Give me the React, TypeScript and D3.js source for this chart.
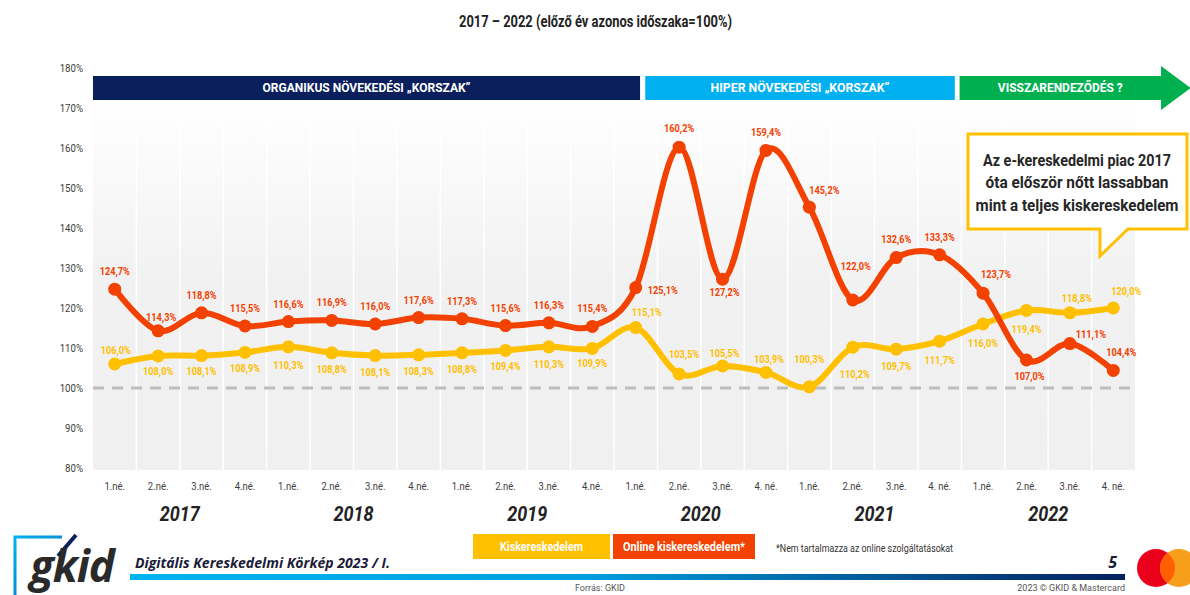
import React from "react";
import * as d3 from "d3";

const years = ["2017", "2018", "2019", "2020", "2021", "2022"];
const quarterLabels = [
  "1.né.", "2.né.", "3.né.", "4.né.",
  "1.né.", "2.né.", "3.né.", "4.né.",
  "1.né.", "2.né.", "3.né.", "4.né.",
  "1.né.", "2.né.", "3.né.", "4. né.",
  "1.né.", "2.né.", "3.né.", "4. né.",
  "1.né.", "2.né.", "3.né.", "4. né.",
];
const retail = [
  106.0, 108.0, 108.1, 108.9, 110.3, 108.8, 108.1, 108.3, 108.8, 109.4, 110.3, 109.9,
  115.1, 103.5, 105.5, 103.9, 100.3, 110.2, 109.7, 111.7, 116.0, 119.4, 118.8, 120.0,
];
const online = [
  124.7, 114.3, 118.8, 115.5, 116.6, 116.9, 116.0, 117.6, 117.3, 115.6, 116.3, 115.4,
  125.1, 160.2, 127.2, 159.4, 145.2, 122.0, 132.6, 133.3, 123.7, 107.0, 111.1, 104.4,
];
const yTicks = [80, 90, 100, 110, 120, 130, 140, 150, 160, 170, 180];
const seriesNames = ["Kiskereskedelem", "Online kiskereskedelem*"];
const phaseLabels = ["ORGANIKUS NÖVEKEDÉSI „KORSZAK”", "HIPER NÖVEKEDÉSI „KORSZAK”", "VISSZARENDEZŐDÉS ?"];
const calloutLines = ["Az e-kereskedelmi piac 2017", "óta először nőtt lassabban", "mint a teljes kiskereskedelem"];
const titleText = "2017 – 2022 (előző év azonos időszaka=100%)";
const noteText = "*Nem tartalmazza az online szolgáltatásokat";

// label offsets (layout, kept separate from the data)
const onlineLabelOffsets: [number, number][] = [
  [0, -18], [3, -14], [0, -18], [0, -18], [0, -18], [0, -18], [0, -18], [0, -18], [0, -18], [0, -18], [0, -18], [0, -18],
  [27, 2], [0, -19], [2, 13], [0, -18], [15, -17], [3, -34], [0, -19], [0, -18], [13, -19], [3, 16], [21, -10], [8, -18],
];
const retailLabelOffsets: [number, number][] = [
  [1, -14], [0, 15], [0, 15], [0, 16], [0, 18], [0, 16], [0, 16], [0, 16], [0, 16], [0, 16], [0, 17], [0, 15],
  [11, -16], [5, -20], [2, -13], [3, -13], [0, -28], [2, 27], [0, 17], [0, 19], [0, 19], [0, 19], [7, -15], [13, -17],
];

const FONT = "Roboto, 'Noto Sans', sans-serif";
const RETAIL = "#ffc000";
const ONLINE = "#f24100";
const NAVY = "#0b1f5c";
const LIGHTBLUE = "#00b0f0";
const GREEN = "#00b050";

const fmt = (v: number) => v.toFixed(1).replace(".", ",") + "%";

function CText(props: any) {
  const { x, y, sx = 1, children, ...rest } = props;
  return (
    <text transform={`translate(${x},${y}) scale(${sx},1)`} dy="0.35em" {...rest}>
      {children}
    </text>
  );
}

export default function App() {
  const W = 1190, H = 595;
  const x0 = 93, x1 = 1135;
  const n = online.length;
  const band = (x1 - x0) / n;
  const x = d3.scaleBand<number>().domain(d3.range(n)).range([x0, x1]);
  const cx = (i: number) => (x(i) as number) + x.bandwidth() / 2;
  const xf = (f: number) => x0 + f * band;
  const y = d3.scaleLinear().domain([80, 180]).range([468, 68]);

  const line = d3.line<number>().x((_, i) => cx(i)).y((d) => y(d)).curve(d3.curveCatmullRom.alpha(0));

  const plotTop = 98, plotBottom = 470;
  const bannerTop = y(178), bannerH = y(172) - y(178);

  return (
    <svg width={W} height={H} style={{ position: "absolute", left: 0, top: 0, background: "#fff" }} fontFamily={FONT}>
      <defs>
        <linearGradient id="bg" x1="0" y1="0" x2="0" y2="1">
          <stop offset="0" stopColor="#ffffff" />
          <stop offset="0.5" stopColor="#f1f1f1" />
          <stop offset="1" stopColor="#f0f0f0" />
        </linearGradient>
        <linearGradient id="bar" x1="0" y1="0" x2="1" y2="0">
          <stop offset="0" stopColor="#00b4f0" />
          <stop offset="0.45" stopColor="#00a0e0" />
          <stop offset="1" stopColor="#06205e" />
        </linearGradient>
        <linearGradient id="logo" x1="0" y1="0" x2="1" y2="1">
          <stop offset="0" stopColor="#00b0f0" />
          <stop offset="1" stopColor="#0070c0" />
        </linearGradient>
      </defs>

      {/* title */}
      <text x={459} y={27} fontSize={16} fontWeight="bold" fill="#222" textLength={273} lengthAdjust="spacingAndGlyphs">
        {titleText}
      </text>

      {/* plot background */}
      <rect x={x0} y={plotTop} width={x1 - x0} height={plotBottom - plotTop} fill="url(#bg)" />
      {d3.range(1, n).map((i) => (
        <line key={i} x1={x0 + i * band} x2={x0 + i * band} y1={plotTop} y2={plotBottom} stroke="#ffffff" strokeWidth={1.5} />
      ))}

      {/* y axis labels */}
      {yTicks.map((t) => (
        <CText key={t} x={83} y={y(t)} sx={0.84} textAnchor="end" fontSize={11.5} fill="#404040">
          {t}%
        </CText>
      ))}

      {/* phase banners */}
      <rect x={xf(0)} y={bannerTop} width={xf(12.6) - xf(0)} height={bannerH} fill={NAVY} />
      <text x={(xf(0) + xf(12.6)) / 2 - 104} y={y(175)} dy="0.35em" fontSize={12.5} fontWeight="bold" fill="#fff"
        textLength={208} lengthAdjust="spacingAndGlyphs">
        {phaseLabels[0]}
      </text>
      <rect x={xf(12.72)} y={bannerTop} width={xf(19.85) - xf(12.72)} height={bannerH} fill={LIGHTBLUE} />
      <text x={(xf(12.72) + xf(19.85)) / 2 - 89.5} y={y(175)} dy="0.35em" fontSize={12.5} fontWeight="bold" fill="#fff"
        textLength={179} lengthAdjust="spacingAndGlyphs">
        {phaseLabels[1]}
      </text>
      <path
        d={`M${xf(19.96)},${y(178)} L${xf(24.6)},${y(178)} L${xf(24.6)},${y(180.5)} L${xf(25.28)},${y(175)} L${xf(24.6)},${y(169.5)} L${xf(24.6)},${y(172)} L${xf(19.96)},${y(172)} Z`}
        fill={GREEN}
      />
      <text x={(xf(19.96) + xf(24.6)) / 2 - 62.5} y={y(175)} dy="0.35em" fontSize={12.5} fontWeight="bold" fill="#fff"
        textLength={125} lengthAdjust="spacingAndGlyphs">
        {phaseLabels[2]}
      </text>

      {/* 100% reference */}
      <line x1={x0} x2={x1} y1={y(100)} y2={y(100)} stroke="#bdbdbd" strokeWidth={3} strokeDasharray="11 8" />

      {/* series */}
      <path d={line(retail) || ""} fill="none" stroke={RETAIL} strokeWidth={6} strokeLinejoin="round" />
      {retail.map((v, i) => (
        <circle key={"rc" + i} cx={cx(i)} cy={y(v)} r={6.5} fill={RETAIL} />
      ))}
      <path d={line(online) || ""} fill="none" stroke={ONLINE} strokeWidth={6} strokeLinejoin="round" />
      {online.map((v, i) => (
        <circle key={"oc" + i} cx={cx(i)} cy={y(v)} r={6.5} fill={ONLINE} />
      ))}

      {/* data labels */}
      {retail.map((v, i) => (
        <CText key={"rl" + i} x={cx(i) + retailLabelOffsets[i][0]} y={y(v) + retailLabelOffsets[i][1]} sx={0.8}
          textAnchor="middle" fontSize={11.5} fontWeight="bold" fill={RETAIL}>
          {fmt(v)}
        </CText>
      ))}
      {online.map((v, i) => (
        <CText key={"ol" + i} x={cx(i) + onlineLabelOffsets[i][0]} y={y(v) + onlineLabelOffsets[i][1]} sx={0.8}
          textAnchor="middle" fontSize={11.5} fontWeight="bold" fill={ONLINE}>
          {fmt(v)}
        </CText>
      ))}

      {/* x axis labels */}
      {quarterLabels.map((q, i) => (
        <CText key={"q" + i} x={cx(i)} y={486} sx={0.86} textAnchor="middle" fontSize={11} fill="#404040">
          {q}
        </CText>
      ))}
      {years.map((yr, k) => (
        <CText key={yr} x={(cx(k * 4) + cx(k * 4 + 3)) / 2} y={514} sx={0.9} textAnchor="middle" fontSize={20}
          fontWeight="bold" fontStyle="italic" fill="#222">
          {yr}
        </CText>
      ))}

      {/* callout */}
      <path d="M968,134 L1187,134 L1187,229 L1128,229 L1100,256 L1100,229 L968,229 Z" fill="#fff" stroke={RETAIL} strokeWidth={3} strokeLinejoin="miter" />
      {calloutLines.map((l, i) => {
        const w = [188, 183, 203][i];
        return (
          <text key={"cl" + i} x={1077 - w / 2} y={160 + i * 22.5} dy="0.35em" fontSize={16} fontWeight="bold" fill="#262626"
            textLength={w} lengthAdjust="spacingAndGlyphs">
            {l}
          </text>
        );
      })}

      {/* legend */}
      <rect x={473} y={534} width={137} height={25} fill={RETAIL} />
      <text x={541.5 - 41.5} y={546.5} dy="0.35em" fontSize={12.5} fontWeight="bold" fill="#fff" textLength={83} lengthAdjust="spacingAndGlyphs">{seriesNames[0]}</text>
      <rect x={613} y={534} width={142} height={25} fill={ONLINE} />
      <text x={684 - 61} y={546.5} dy="0.35em" fontSize={12.5} fontWeight="bold" fill="#fff" textLength={122} lengthAdjust="spacingAndGlyphs">{seriesNames[1]}</text>
      <text x={776} y={548} dy="0.35em" fontSize={10.5} fill="#333" textLength={177} lengthAdjust="spacingAndGlyphs">{noteText}</text>

      {/* footer */}
      <path d="M15,595 L15,537 L62,537" fill="none" stroke="url(#logo)" strokeWidth={3} />
      <path d="M76,535 L58,556" fill="none" stroke={NAVY} strokeWidth={4} />
      <text x={30} y={582} fontSize={44} fontWeight="bold" fontStyle="italic" fill="#2a2a2a" fontFamily="'Open Sans', sans-serif" letterSpacing={-1}>gkid</text>
      <text x={135} y={568} fontSize={14.5} fontWeight="bold" fontStyle="italic" fill="#1b1b3a" fontFamily="'Open Sans', sans-serif"
        textLength={255} lengthAdjust="spacingAndGlyphs">
        Digitális Kereskedelmi Körkép 2023 / I.
      </text>
      <text x={1117} y={568} fontSize={16} fontWeight="bold" fontStyle="italic" fill="#1b1b3a" textAnchor="end" fontFamily="'Open Sans', sans-serif">5</text>
      <rect x={130} y={574} width={995} height={6} fill="url(#bar)" />
      <text x={600} y={591} textAnchor="middle" fontSize={9} fill="#555">Forrás: GKID</text>
      <text x={1125} y={591} textAnchor="end" fontSize={9} fill="#555">2023 © GKID &amp; Mastercard</text>
      <circle cx={1156} cy={568} r={19} fill="#eb001b" />
      <circle cx={1179} cy={568} r={19} fill="#f79e1b" />
      <path d="M1167.5,552.9 A19,19 0 0 1 1167.5,583.1 A19,19 0 0 1 1167.5,552.9 Z" fill="#ff5f00" />
    </svg>
  );
}
